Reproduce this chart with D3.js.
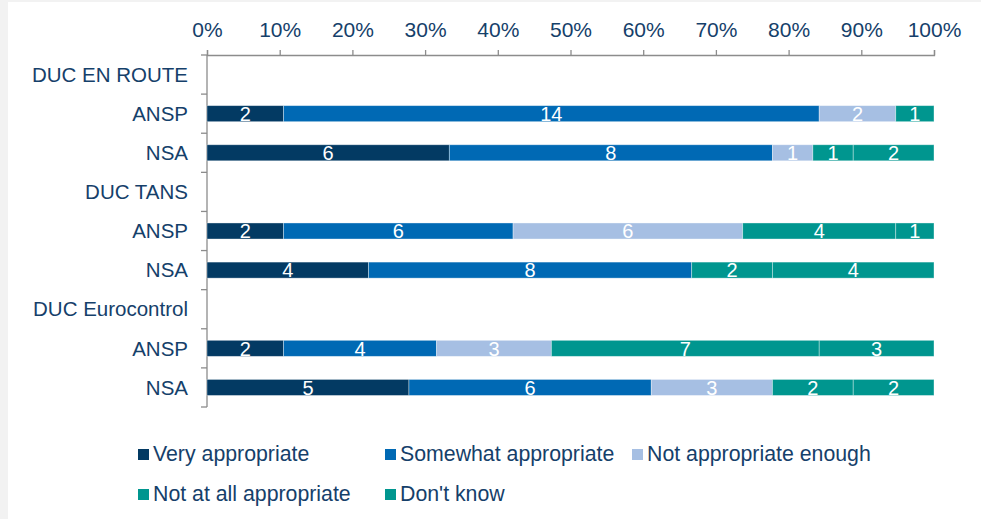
<!DOCTYPE html>
<html>
<head>
<meta charset="utf-8">
<script src="https://cdn.jsdelivr.net/npm/d3@7"></script>
<style>
  html, body { margin: 0; padding: 0; background: #f2f2f2; }
  svg { display: block; }
  text { font-family: "Liberation Sans", Arial, sans-serif; }
</style>
</head>
<body>
<svg id="chart" width="981" height="519"></svg>
<script>
const rowLabels = ["DUC EN ROUTE", "ANSP", "NSA", "DUC TANS", "ANSP", "NSA", "DUC Eurocontrol", "ANSP", "NSA"];
const seriesNames = ["Very appropriate", "Somewhat appropriate", "Not appropriate enough", "Not at all appropriate", "Don't know"];
const seriesColors = ["#033a63", "#0069b4", "#a6bfe3", "#00968f", "#00968f"];
const veryAppropriate      = [null, 2, 6, null, 2, 4, null, 2, 5];
const somewhatAppropriate  = [null, 14, 8, null, 6, 8, null, 4, 6];
const notAppropriateEnough = [null, 2, 1, null, 6, 0, null, 3, 3];
const notAtAllAppropriate  = [null, 0, 1, null, 4, 2, null, 7, 2];
const dontKnow             = [null, 1, 2, null, 1, 4, null, 3, 2];
const tickValues = [0, 0.1, 0.2, 0.3, 0.4, 0.5, 0.6, 0.7, 0.8, 0.9, 1.0];

const series = [veryAppropriate, somewhatAppropriate, notAppropriateEnough, notAtAllAppropriate, dontKnow];
const svg = d3.select("#chart");
const textColor = "#15406a";
const axisColor = "#8c8c8c";
const FONT = "'Liberation Sans', Arial, sans-serif";

// white panel
svg.append("rect").attr("x", 8).attr("y", 2).attr("width", 973).attr("height", 517).attr("fill", "#fff");

const x = d3.scaleLinear().domain([0, 1]).range([207, 934]);
const y = d3.scaleBand().domain(d3.range(rowLabels.length)).range([55, 407]).paddingInner(0.59).paddingOuter(0.295);

// top axis
const xAxis = d3.axisTop(x).tickValues(tickValues).tickFormat(d3.format(".0%")).tickSizeInner(5).tickSizeOuter(5).tickPadding(13);
const gx = svg.append("g").attr("transform", "translate(0,55)").call(xAxis);
gx.selectAll("path, line").attr("stroke", axisColor).attr("stroke-width", 1.3);
gx.selectAll("text").attr("fill", textColor).style("font-size", "21px").style("font-family", FONT);

// left axis with ticks at band boundaries
const yLine = svg.append("g");
const step = (407 - 55) / rowLabels.length;
yLine.append("line").attr("x1", 207).attr("x2", 207).attr("y1", 55).attr("y2", 407).attr("stroke", axisColor).attr("stroke-width", 1.3);
d3.range(rowLabels.length + 1).forEach(i => {
  yLine.append("line").attr("x1", 201).attr("x2", 207).attr("y1", 55 + i * step).attr("y2", 55 + i * step).attr("stroke", axisColor).attr("stroke-width", 1.3);
});

// row labels
svg.append("g").selectAll("text").data(rowLabels).join("text")
  .attr("x", 188).attr("y", (d, i) => y(i) + y.bandwidth() / 2)
  .attr("text-anchor", "end").attr("dy", "0.35em")
  .attr("fill", textColor).style("font-size", "20.5px").text(d => d);

// stacked bars
rowLabels.forEach((lab, i) => {
  const vals = series.map(s => s[i]);
  if (vals[0] === null) return;
  const total = d3.sum(vals);
  let cum = 0;
  vals.forEach((v, k) => {
    if (!v) return;
    const x0 = x(cum / total), x1 = x((cum + v) / total);
    svg.append("rect").attr("x", x0).attr("y", y(i)).attr("width", x1 - x0).attr("height", y.bandwidth())
      .attr("fill", seriesColors[k]).attr("stroke", "rgba(255,255,255,0.45)").attr("stroke-width", 0.8);
    svg.append("text").attr("x", (x0 + x1) / 2).attr("y", y(i) + y.bandwidth() / 2).attr("dy", "0.36em")
      .attr("text-anchor", "middle").attr("fill", "#fff").style("font-size", "20px").text(v);
    cum += v;
  });
});

// legend
const legendPos = [[138, 454], [385, 454], [632, 454], [138, 494], [385, 494]];
seriesNames.forEach((name, k) => {
  const [lx, ly] = legendPos[k];
  svg.append("rect").attr("x", lx).attr("y", ly - 5).attr("width", 11).attr("height", 11).attr("fill", seriesColors[k]);
  svg.append("text").attr("x", lx + 15).attr("y", ly).attr("dy", "0.35em").attr("fill", textColor).style("font-size", "21.3px").text(name);
});
</script>
</body>
</html>
